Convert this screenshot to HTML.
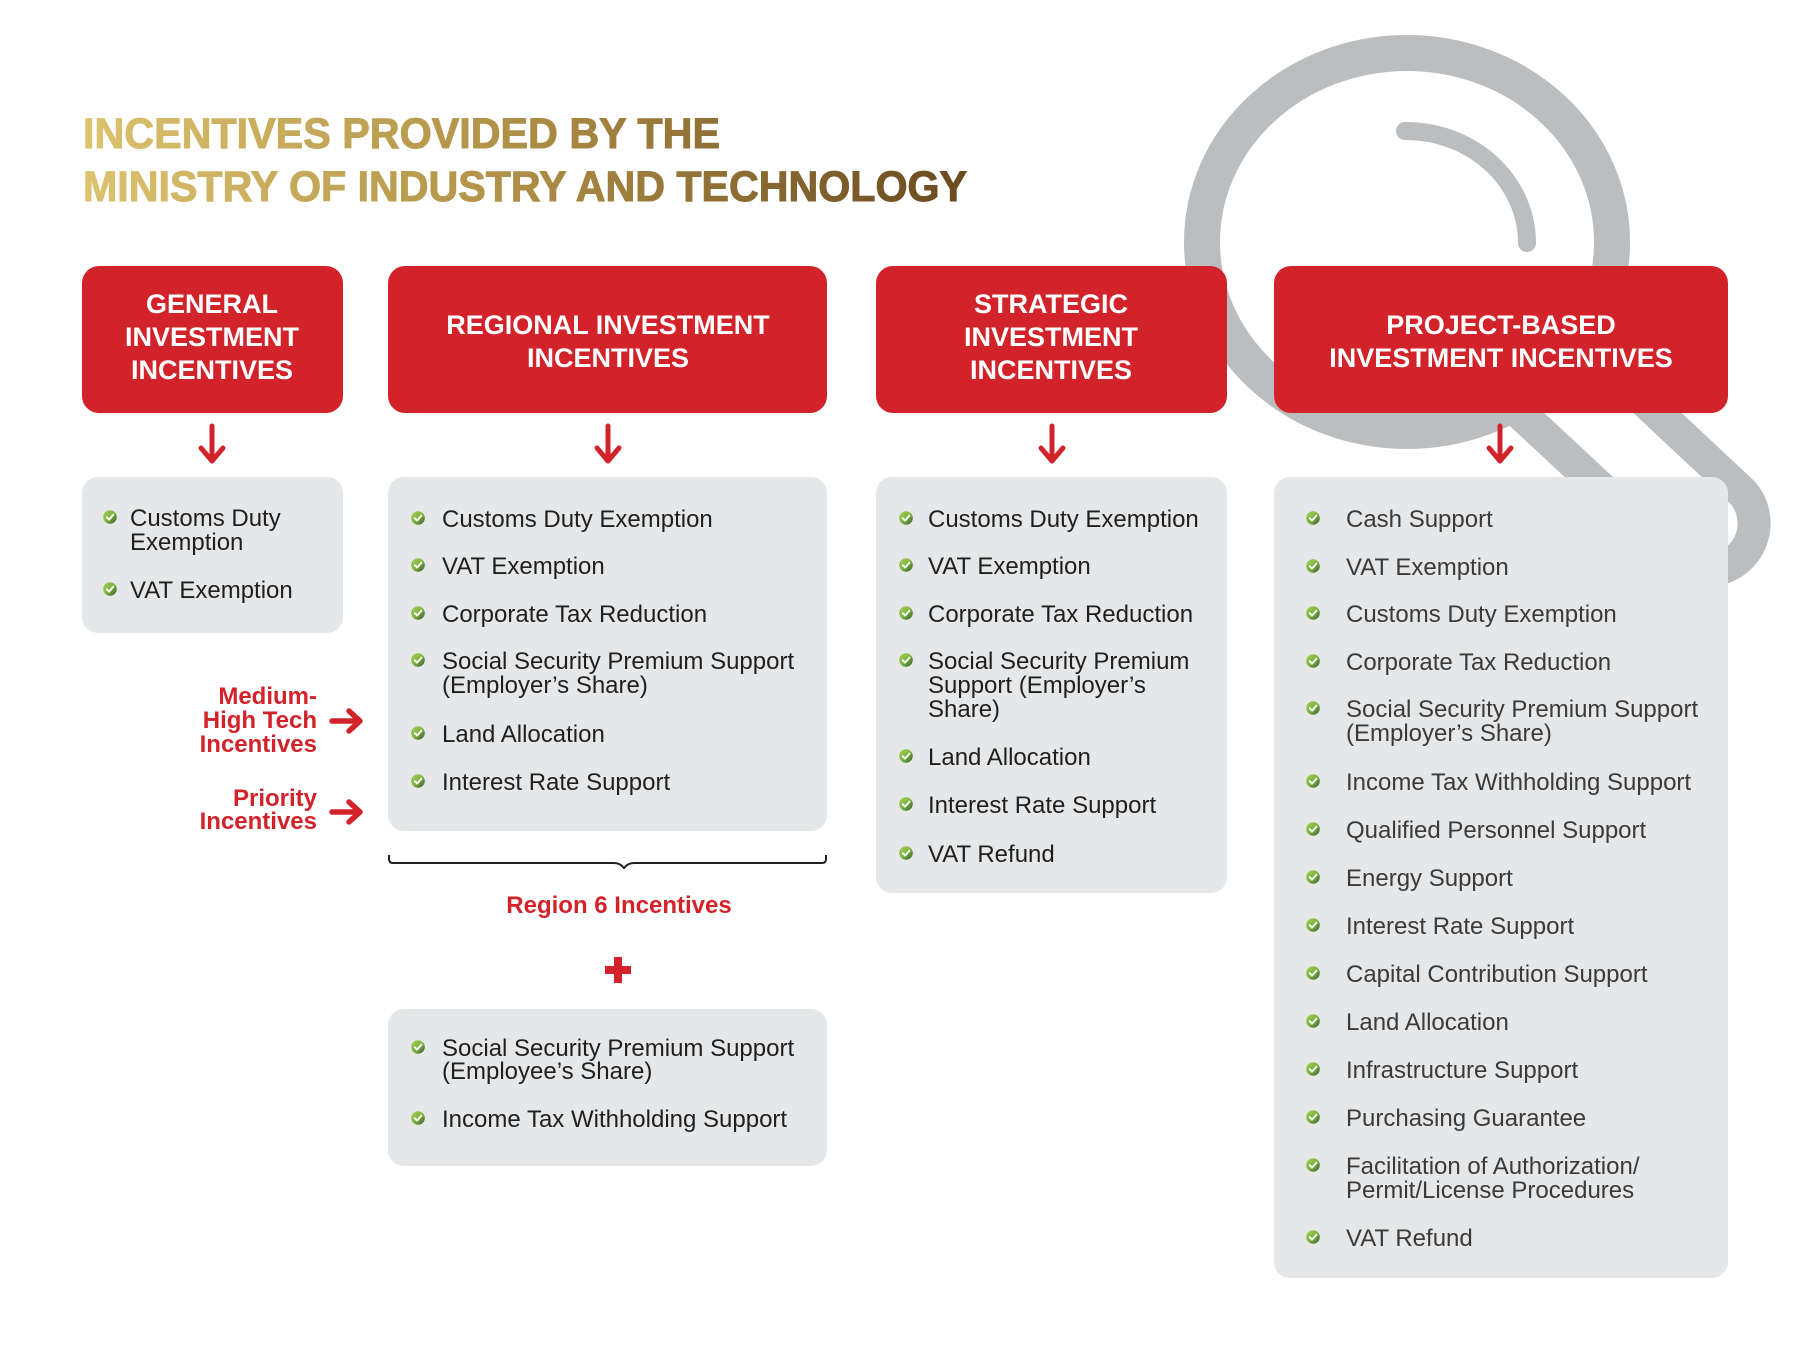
<!DOCTYPE html>
<html>
<head>
<meta charset="utf-8">
<style>
  html, body { margin: 0; padding: 0; background: #ffffff; }
  body { width: 1814px; height: 1361px; overflow: hidden; }
  svg { display: block; }
  .hdr { font-family: "Liberation Sans", sans-serif; font-weight: bold; font-size: 27px; fill: #ffffff; text-anchor: middle; }
  .li { font-family: "Liberation Sans", sans-serif; font-size: 24px; fill: #1f1f1f; }
  .lp { font-family: "Liberation Sans", sans-serif; font-size: 24px; fill: #3a3a3a; }
  .red { font-family: "Liberation Sans", sans-serif; font-weight: bold; font-size: 24px; fill: #d2232a; }
</style>
</head>
<body>
<svg width="1814" height="1361" viewBox="0 0 1814 1361" xmlns="http://www.w3.org/2000/svg">
  <defs>
    <linearGradient id="gold" gradientUnits="userSpaceOnUse" x1="83" y1="0" x2="967" y2="0">
      <stop offset="0" stop-color="#dcc36f"/>
      <stop offset="0.45" stop-color="#b39449"/>
      <stop offset="1" stop-color="#6a4a1f"/>
    </linearGradient>
    <linearGradient id="chk" x1="0" y1="0" x2="1" y2="1">
      <stop offset="0" stop-color="#a6d157"/>
      <stop offset="0.5" stop-color="#7fb540"/>
      <stop offset="1" stop-color="#2f5a2c"/>
    </linearGradient>
    <g id="b">
      <circle cx="0" cy="0" r="6.8" fill="url(#chk)"/>
      <path d="M -3.2 0.2 L -0.9 2.6 L 3.4 -2.4" fill="none" stroke="#ffffff" stroke-width="1.9" stroke-linecap="round" stroke-linejoin="round"/>
    </g>
  </defs>

  <!-- Magnifier -->
  <g fill="none" stroke="#bcbdbf">
    <ellipse cx="1407" cy="242" rx="205" ry="189" stroke-width="36"/>
    <path d="M 1405 131 A 121 112 0 0 1 1527 243" stroke-width="18" stroke-linecap="round"/>
    <path d="M 1524 288 L 1743 493 A 47 47 0 0 1 1679 561 L 1460 357" stroke-width="33"/>
  </g>

  <!-- Title -->
  <text x="83" y="148" font-family="'Liberation Sans Narrow','Liberation Sans',sans-serif" font-weight="bold" font-size="43" fill="url(#gold)" stroke="url(#gold)" stroke-width="1" textLength="637" lengthAdjust="spacingAndGlyphs">INCENTIVES PROVIDED BY THE</text>
  <text x="83" y="201" font-family="'Liberation Sans Narrow','Liberation Sans',sans-serif" font-weight="bold" font-size="43" fill="url(#gold)" stroke="url(#gold)" stroke-width="1" textLength="884" lengthAdjust="spacingAndGlyphs">MINISTRY OF INDUSTRY AND TECHNOLOGY</text>

  <!-- Red headers -->
  <rect x="82" y="266" width="261" height="147" rx="17" fill="#d2232a"/>
  <rect x="388" y="266" width="439" height="147" rx="17" fill="#d2232a"/>
  <rect x="876" y="266" width="351" height="147" rx="17" fill="#d2232a"/>
  <rect x="1274" y="266" width="454" height="147" rx="17" fill="#d2232a"/>

  <text class="hdr" x="212" y="313">GENERAL</text>
  <text class="hdr" x="212" y="346">INVESTMENT</text>
  <text class="hdr" x="212" y="379">INCENTIVES</text>

  <text class="hdr" x="608" y="334">REGIONAL INVESTMENT</text>
  <text class="hdr" x="608" y="367">INCENTIVES</text>

  <text class="hdr" x="1051" y="313">STRATEGIC</text>
  <text class="hdr" x="1051" y="346">INVESTMENT</text>
  <text class="hdr" x="1051" y="379">INCENTIVES</text>

  <text class="hdr" x="1501" y="334">PROJECT-BASED</text>
  <text class="hdr" x="1501" y="367">INVESTMENT INCENTIVES</text>

  <!-- Down arrows -->
  <g fill="none" stroke="#d2232a" stroke-width="5" stroke-linecap="round" stroke-linejoin="round">
    <path d="M 212 426 V 460 M 201 448 L 212 461 L 223 448"/>
    <path d="M 608 426 V 460 M 597 448 L 608 461 L 619 448"/>
    <path d="M 1052 426 V 460 M 1041 448 L 1052 461 L 1063 448"/>
    <path d="M 1500 426 V 460 M 1489 448 L 1500 461 L 1511 448"/>
  </g>

  <!-- Gray content boxes -->
  <rect x="82" y="477" width="261" height="156" rx="16" fill="#e6e7e8"/>
  <rect x="388" y="477" width="439" height="354" rx="16" fill="#e6e7e8"/>
  <rect x="876" y="477" width="351" height="416" rx="16" fill="#e6e7e8"/>
  <rect x="1274" y="477" width="454" height="801" rx="16" fill="#e6e7e8"/>
  <rect x="388" y="1009" width="439" height="157" rx="16" fill="#e6e7e8"/>

  <!-- General list -->
  <use href="#b" x="110" y="517"/>
  <text class="li" x="130" y="526">Customs Duty</text>
  <text class="li" x="130" y="550">Exemption</text>
  <use href="#b" x="110" y="589"/>
  <text class="li" x="130" y="598">VAT Exemption</text>

  <!-- Regional list -->
  <use href="#b" x="418" y="518"/>
  <text class="li" x="442" y="527">Customs Duty Exemption</text>
  <use href="#b" x="418" y="565"/>
  <text class="li" x="442" y="574">VAT Exemption</text>
  <use href="#b" x="418" y="613"/>
  <text class="li" x="442" y="622">Corporate Tax Reduction</text>
  <use href="#b" x="418" y="660"/>
  <text class="li" x="442" y="669">Social Security Premium Support</text>
  <text class="li" x="442" y="693">(Employer’s Share)</text>
  <use href="#b" x="418" y="733"/>
  <text class="li" x="442" y="742">Land Allocation</text>
  <use href="#b" x="418" y="781"/>
  <text class="li" x="442" y="790">Interest Rate Support</text>

  <!-- Strategic list -->
  <use href="#b" x="906" y="518"/>
  <text class="li" x="928" y="527">Customs Duty Exemption</text>
  <use href="#b" x="906" y="565"/>
  <text class="li" x="928" y="574">VAT Exemption</text>
  <use href="#b" x="906" y="613"/>
  <text class="li" x="928" y="622">Corporate Tax Reduction</text>
  <use href="#b" x="906" y="660"/>
  <text class="li" x="928" y="669">Social Security Premium</text>
  <text class="li" x="928" y="693">Support (Employer’s</text>
  <text class="li" x="928" y="717">Share)</text>
  <use href="#b" x="906" y="756"/>
  <text class="li" x="928" y="765">Land Allocation</text>
  <use href="#b" x="906" y="804"/>
  <text class="li" x="928" y="813">Interest Rate Support</text>
  <use href="#b" x="906" y="853"/>
  <text class="li" x="928" y="862">VAT Refund</text>

  <!-- Project list -->
  <use href="#b" x="1313" y="518"/>
  <text class="lp" x="1346" y="527">Cash Support</text>
  <use href="#b" x="1313" y="566"/>
  <text class="lp" x="1346" y="575">VAT Exemption</text>
  <use href="#b" x="1313" y="613"/>
  <text class="lp" x="1346" y="622">Customs Duty Exemption</text>
  <use href="#b" x="1313" y="661"/>
  <text class="lp" x="1346" y="670">Corporate Tax Reduction</text>
  <use href="#b" x="1313" y="708"/>
  <text class="lp" x="1346" y="717">Social Security Premium Support</text>
  <text class="lp" x="1346" y="741">(Employer’s Share)</text>
  <use href="#b" x="1313" y="781"/>
  <text class="lp" x="1346" y="790">Income Tax Withholding Support</text>
  <use href="#b" x="1313" y="829"/>
  <text class="lp" x="1346" y="838">Qualified Personnel Support</text>
  <use href="#b" x="1313" y="877"/>
  <text class="lp" x="1346" y="886">Energy Support</text>
  <use href="#b" x="1313" y="925"/>
  <text class="lp" x="1346" y="934">Interest Rate Support</text>
  <use href="#b" x="1313" y="973"/>
  <text class="lp" x="1346" y="982">Capital Contribution Support</text>
  <use href="#b" x="1313" y="1021"/>
  <text class="lp" x="1346" y="1030">Land Allocation</text>
  <use href="#b" x="1313" y="1069"/>
  <text class="lp" x="1346" y="1078">Infrastructure Support</text>
  <use href="#b" x="1313" y="1117"/>
  <text class="lp" x="1346" y="1126">Purchasing Guarantee</text>
  <use href="#b" x="1313" y="1165"/>
  <text class="lp" x="1346" y="1174">Facilitation of Authorization/</text>
  <text class="lp" x="1346" y="1198">Permit/License Procedures</text>
  <use href="#b" x="1313" y="1237"/>
  <text class="lp" x="1346" y="1246">VAT Refund</text>

  <!-- Left side labels -->
  <text class="red" x="317" y="704" text-anchor="end">Medium-</text>
  <text class="red" x="317" y="728" text-anchor="end">High Tech</text>
  <text class="red" x="317" y="752" text-anchor="end">Incentives</text>
  <text class="red" x="317" y="806" text-anchor="end">Priority</text>
  <text class="red" x="317" y="829" text-anchor="end">Incentives</text>

  <g fill="none" stroke="#d2232a" stroke-width="5.5" stroke-linecap="round" stroke-linejoin="round">
    <path d="M 332 721 H 359 M 349 711 L 360 721 L 349 731"/>
    <path d="M 332 812 H 359 M 349 802 L 360 812 L 349 822"/>
  </g>

  <!-- Brace -->
  <path d="M 389 855 V 859 Q 389 863 393 863 H 614 Q 620 863 624 868 Q 628 863 634 863 H 822 Q 826 863 826 859 V 855" fill="none" stroke="#1f1f1f" stroke-width="2"/>

  <text class="red" x="619" y="913" text-anchor="middle" font-size="23.5">Region 6 Incentives</text>

  <!-- Plus -->
  <rect x="605" y="966" width="26" height="8" fill="#d2232a"/>
  <rect x="614" y="957" width="8" height="26" fill="#d2232a"/>

  <!-- Bottom regional list -->
  <use href="#b" x="418" y="1047"/>
  <text class="li" x="442" y="1056">Social Security Premium Support</text>
  <text class="li" x="442" y="1079">(Employee’s Share)</text>
  <use href="#b" x="418" y="1118"/>
  <text class="li" x="442" y="1127">Income Tax Withholding Support</text>
</svg>
</body>
</html>
